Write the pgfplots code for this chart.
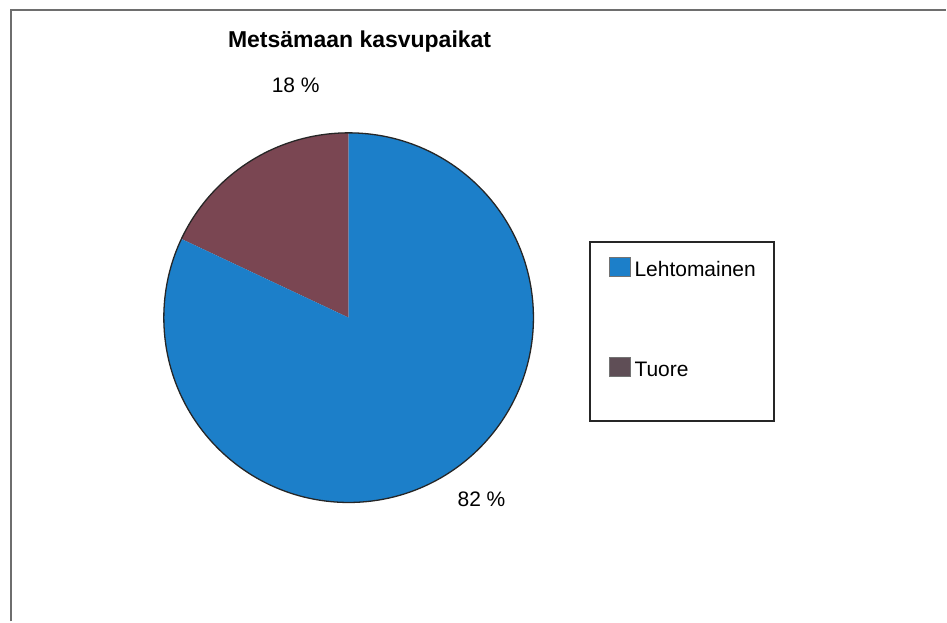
\documentclass[border=0pt]{standalone}
\usepackage{pgfplots}
\pgfplotsset{compat=1.18}
\usepackage{pgfplotstable}
\usepackage{fontspec}
\setmainfont{Liberation Sans}
\definecolor{lehto}{RGB}{28,127,201}
\definecolor{tuore}{RGB}{122,70,82}
\definecolor{tuoreleg}{RGB}{95,78,86}
\definecolor{framec}{RGB}{110,110,110}
\pgfplotstableread{
label value
Lehtomainen 82
Tuore 18
}\piedata
\begin{document}
\pgfplotstablegetelem{0}{value}\of\piedata\edef\valA{\pgfplotsretval}%
\pgfplotstablegetelem{1}{value}\of\piedata\edef\valB{\pgfplotsretval}%
\pgfmathsetmacro\angB{90+360*\valB/(\valA+\valB)}%
\begin{tikzpicture}
\begin{axis}[x=1pt,y=1pt,xmin=0,xmax=947,ymin=0,ymax=622,scale only axis,hide axis,clip=false]
\path (axis cs:0,0) (axis cs:947,622);
% frame
\draw[framec,line width=2pt] (axis cs:11,0) -- (axis cs:11,612) -- (axis cs:947,612);
% title
\node[anchor=base,font=\bfseries\fontsize{23}{27}\selectfont] at (axis cs:360,574) {Metsämaan kasvupaikat};
% pie
\fill[tuore] (axis cs:349,304) -- (axis cs:349,489) arc[start angle=90,end angle=\angB,radius=185pt] -- cycle;
\fill[lehto] (axis cs:349,304) -- ++(\angB:185pt) arc[start angle=\angB,end angle=450,radius=185pt] -- cycle;
\draw[black!85,line width=1.3pt] (axis cs:349,304) circle[radius=185pt];
% data labels
\node[anchor=base,font=\fontsize{21}{25}\selectfont] at (axis cs:296,529) {\valB~\%};
\node[anchor=base,font=\fontsize{21}{25}\selectfont] at (axis cs:482,115) {\valA~\%};
% legend
\draw[black!85,line width=2pt] (axis cs:591,201) rectangle (axis cs:775,380);
\filldraw[fill=lehto,draw=black!55,line width=0.6pt] (axis cs:610,345) rectangle (axis cs:631,364);
\filldraw[fill=tuoreleg,draw=black!55,line width=0.6pt] (axis cs:610,245) rectangle (axis cs:631,264);
\node[anchor=base west,font=\fontsize{21}{25}\selectfont,inner sep=0pt] at (axis cs:635,345) {Lehtomainen};
\node[anchor=base west,font=\fontsize{21}{25}\selectfont,inner sep=0pt] at (axis cs:635,245) {Tuore};
\end{axis}
\end{tikzpicture}
\end{document}
